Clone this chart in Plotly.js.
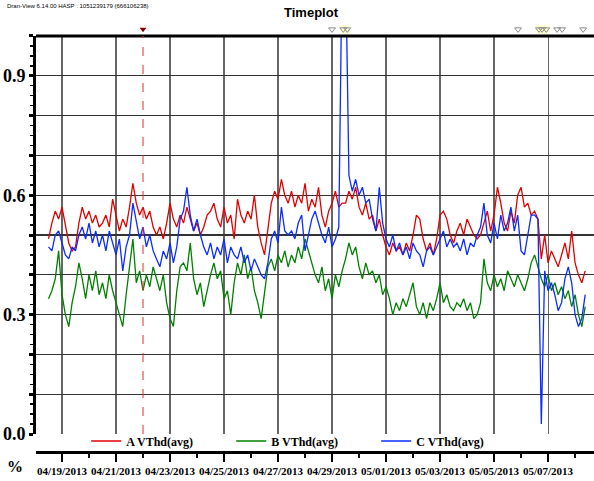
<!DOCTYPE html>
<html><head><meta charset="utf-8">
<script src="https://cdn.plot.ly/plotly-3.0.1.min.js"></script>
<style>html,body{margin:0;padding:0;background:#fff}#chart{width:594px;height:481px}</style>
</head><body><div id="chart"></div>
<script>
// Sampling: every 3 hours starting 2013-04-18 12:00
const seriesStart = '2013-04-18T12:00:00Z';
const stepHours = 3;

const seriesNames = ['A VThd(avg)', 'B VThd(avg)', 'C VThd(avg)'];
const seriesColors = ['#e00000', '#008000', '#0a2cff'];

const valuesA = [
 0.49,0.53,0.56,0.54,0.57,0.52,0.48,0.46,
 0.47,0.53,0.57,0.54,0.56,0.53,0.55,0.52,
 0.53,0.55,0.52,0.59,0.55,0.51,0.54,0.52,
 0.57,0.63,0.58,0.55,0.57,0.54,0.56,0.52,
 0.50,0.52,0.49,0.53,0.58,0.54,0.52,0.55,
 0.53,0.57,0.54,0.51,0.53,0.50,0.52,0.55,
 0.56,0.58,0.54,0.52,0.57,0.53,0.55,0.49,
 0.59,0.55,0.53,0.56,0.54,0.60,0.52,0.48,
 0.45,0.52,0.58,0.61,0.59,0.64,0.60,0.58,
 0.61,0.57,0.60,0.58,0.63,0.56,0.59,0.57,
 0.62,0.55,0.52,0.56,0.58,0.61,0.57,0.58,
 0.58,0.61,0.59,0.62,0.57,0.55,0.58,0.54,
 0.55,0.51,0.54,0.50,0.47,0.45,0.48,0.46,
 0.47,0.45,0.48,0.46,0.50,0.55,0.54,0.49,
 0.46,0.48,0.45,0.49,0.55,0.56,0.54,0.50,
 0.48,0.51,0.53,0.50,0.54,0.52,0.50,0.49,
 0.50,0.53,0.56,0.51,0.55,0.62,0.58,0.53,
 0.51,0.56,0.53,0.60,0.62,0.57,0.58,0.55,
 0.56,0.54,0.44,0.50,0.43,0.46,0.44,0.42,
 0.45,0.48,0.44,0.51,0.43,0.40,0.38,0.41
];
const valuesB = [
 0.34,0.36,0.39,0.46,0.35,0.30,0.27,0.33,
 0.37,0.43,0.39,0.34,0.40,0.36,0.41,0.35,
 0.38,0.34,0.40,0.36,0.33,0.30,0.27,0.35,
 0.42,0.49,0.38,0.41,0.36,0.40,0.37,0.42,
 0.39,0.36,0.40,0.33,0.29,0.27,0.36,0.42,
 0.43,0.41,0.48,0.39,0.35,0.38,0.32,0.36,
 0.40,0.43,0.39,0.41,0.34,0.36,0.30,0.38,
 0.43,0.40,0.45,0.39,0.42,0.36,0.33,0.29,
 0.35,0.42,0.44,0.41,0.45,0.43,0.46,0.42,
 0.45,0.43,0.47,0.44,0.49,0.46,0.43,0.40,
 0.38,0.42,0.36,0.39,0.34,0.40,0.37,0.41,
 0.44,0.48,0.45,0.47,0.42,0.39,0.43,0.40,
 0.41,0.38,0.40,0.35,0.37,0.34,0.30,0.33,
 0.31,0.34,0.32,0.35,0.38,0.32,0.30,0.33,
 0.29,0.33,0.31,0.34,0.38,0.33,0.35,0.32,
 0.31,0.33,0.32,0.34,0.31,0.33,0.29,0.30,
 0.33,0.44,0.38,0.36,0.40,0.37,0.39,0.36,
 0.41,0.39,0.37,0.40,0.38,0.36,0.39,0.43,
 0.45,0.42,0.39,0.37,0.40,0.36,0.38,0.35,
 0.37,0.34,0.36,0.32,0.35,0.30,0.27,0.32
];
const valuesC = [
 0.47,0.46,0.50,0.51,0.48,0.45,0.44,0.47,
 0.46,0.50,0.52,0.49,0.53,0.48,0.51,0.47,
 0.50,0.46,0.51,0.48,0.45,0.49,0.41,0.47,
 0.50,0.58,0.53,0.49,0.52,0.47,0.50,0.46,
 0.44,0.42,0.46,0.44,0.48,0.43,0.47,0.54,
 0.56,0.62,0.55,0.51,0.54,0.50,0.47,0.45,
 0.48,0.44,0.47,0.45,0.49,0.43,0.47,0.45,
 0.44,0.47,0.43,0.45,0.41,0.44,0.42,0.40,
 0.39,0.43,0.49,0.51,0.48,0.57,0.51,0.50,
 0.51,0.49,0.53,0.55,0.46,0.50,0.54,0.56,
 0.53,0.50,0.48,0.52,0.47,0.49,0.52,1.20,
 1.20,0.65,0.61,0.64,0.60,0.62,0.58,0.59,
 0.54,0.51,0.62,0.53,0.49,0.47,0.50,0.46,
 0.48,0.45,0.47,0.44,0.48,0.46,0.45,0.42,
 0.46,0.47,0.45,0.47,0.49,0.51,0.47,0.49,
 0.47,0.48,0.46,0.49,0.45,0.48,0.47,0.50,
 0.52,0.58,0.50,0.48,0.53,0.49,0.55,0.51,
 0.53,0.57,0.51,0.55,0.46,0.45,0.50,0.55,
 0.55,0.54,0.025,0.41,0.36,0.38,0.35,0.31,
 0.33,0.39,0.42,0.38,0.30,0.27,0.29,0.35
];

const yTickVals = [0,0.1,0.2,0.3,0.4,0.5,0.6,0.7,0.8,0.9,1.0];
const yTickText = ['0.0','','','0.3','','','0.6','','','0.9',''];

const markedEvent = ['2013-04-22 00:00'];
const otherEvents = ['2013-04-29 00:00','2013-04-29 10:00','2013-04-29 13:30','2013-05-05 21:20',
  '2013-05-06 16:00','2013-05-06 18:40','2013-05-06 22:20','2013-05-07 08:00','2013-05-07 12:30','2013-05-08 07:10'];
const eventGroups = [['2013-04-29 08:00','2013-04-29 15:00'],['2013-05-06 13:00','2013-05-07 00:30']];

function fmt(ms){ const d=new Date(ms); return d.toISOString().slice(0,19).replace('T',' '); }
const t0 = Date.parse(seriesStart);
const times = valuesA.map((_,i)=>fmt(t0 + i*stepHours*3600000));

const serif = 'Liberation Serif, Times New Roman, serif';
const traces = [valuesA, valuesB, valuesC].map((v,k)=>({
  type:'scatter', mode:'lines', x:times, y:v, name:seriesNames[k],
  line:{color:seriesColors[k], width:1.3}, hoverinfo:'skip'
}));
traces.push({type:'scatter', mode:'markers', x:markedEvent, y:markedEvent.map(()=>0.5), xaxis:'x2', yaxis:'y2', showlegend:false,
  marker:{symbol:'triangle-down', size:6, color:'#8b0000'}, hoverinfo:'skip'});
traces.push({type:'scatter', mode:'markers', x:otherEvents, y:otherEvents.map(()=>0.5), xaxis:'x2', yaxis:'y2', showlegend:false,
  marker:{symbol:'triangle-down-open', size:6, color:'#8a8a8a', line:{width:1}}, hoverinfo:'skip'});

const shapes = [
  {type:'line', xref:'paper', yref:'y domain', x0:0, x1:1, y0:1, y1:1, line:{color:'black', width:3}},
  {type:'line', xref:'x', yref:'y domain', x0:markedEvent[0], x1:markedEvent[0], y0:0, y1:1,
    line:{color:'#e03030', width:1, dash:'dash'}}
];
eventGroups.forEach(g=>shapes.push({type:'rect', xref:'x2', yref:'y2', x0:g[0], x1:g[1], y0:0.1, y1:0.9,
  fillcolor:'#ffffd0', line:{width:0}, layer:'below'}));

const layout = {
  width:594, height:481, paper_bgcolor:'#fff', plot_bgcolor:'rgba(0,0,0,0)',
  margin:{l:36, r:0, t:24, b:29},
  showlegend:true,
  title:{text:'Timeplot', x:0.5236, xref:'container', y:0.975, yref:'container', yanchor:'middle', xanchor:'center',
    font:{family:'Liberation Sans Narrow, Liberation Sans, Arial, sans-serif', size:13, color:'#000', weight:'bold'}},
  xaxis:{type:'date', range:['2013-04-18 00:53','2013-05-08 16:50'], anchor:'free', position:0,
    tick0:'2013-04-19', dtick:2*86400000, tickformat:'%m/%d/%Y',
    showgrid:true, gridcolor:'#666', gridwidth:1.1,
    showline:true, linecolor:'#000', linewidth:3,
    ticks:'outside', ticklen:8, tickwidth:2, tickcolor:'#000',
    minor:{dtick:86400000, tick0:'2013-04-19', ticks:'outside', ticklen:4, tickwidth:1.5, tickcolor:'#000', showgrid:false},
    tickfont:{family:serif, size:11, color:'#000', weight:'bold'}, zeroline:false},
  yaxis:{domain:[0.042,0.972], range:[0,1.0], tickmode:'array', tickvals:yTickVals, ticktext:yTickText,
    showgrid:true, gridcolor:'#333', gridwidth:1.3, zeroline:false,
    showline:true, linecolor:'#000', linewidth:3,
    ticks:'outside', ticklen:4, tickwidth:3, tickcolor:'#000',
    minor:{tickmode:'linear', tick0:0, dtick:0.025, ticks:'outside', ticklen:3, tickwidth:1.5, tickcolor:'#000', showgrid:false},
    tickfont:{family:serif, size:18, color:'#000', weight:'bold'}},
  xaxis2:{matches:'x', anchor:'y2', visible:false, showgrid:false},
  yaxis2:{domain:[0.975,1], range:[0,1], anchor:'x2', visible:false, showgrid:false},
  legend:{orientation:'h', x:0.09, xanchor:'left', y:0.0257, yanchor:'middle', entrywidth:100, entrywidthmode:'pixels',
    font:{family:serif, size:12, color:'#000', weight:'bold'}, bgcolor:'rgba(0,0,0,0)', itemwidth:30, tracegroupgap:0},
  annotations:[
    {text:'Dran-View 6.14.00 HASP : 1051239179 (666106238)', xref:'paper', yref:'paper', x:-0.056, y:1.042,
      xanchor:'left', yanchor:'middle', showarrow:false, font:{family:'Liberation Sans Narrow, Liberation Sans, Arial', size:6, color:'#000'}},
    {text:'%', xref:'paper', yref:'paper', x:-0.038, y:-0.035, xanchor:'center', yanchor:'middle', showarrow:false,
      font:{family:serif, size:16, color:'#000', weight:'bold'}}
  ],
  shapes:shapes
};
Plotly.newPlot('chart', traces, layout, {staticPlot:true, displayModeBar:false});
</script></body></html>
